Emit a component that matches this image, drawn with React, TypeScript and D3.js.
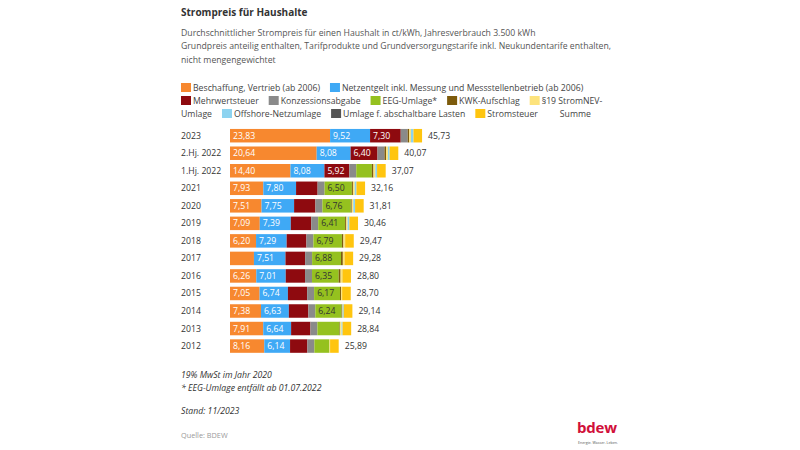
import React from "react";
import * as d3 from "d3";

const categories = ["2023", "2.Hj. 2022", "1.Hj. 2022", "2021", "2020", "2019", "2018", "2017", "2016", "2015", "2014", "2013", "2012"];
const beschaffung = [23.83, 20.64, 14.40, 7.93, 7.51, 7.09, 6.20, 5.70, 6.26, 7.05, 7.38, 7.91, 8.16];
const netzentgelt = [9.52, 8.08, 8.08, 7.80, 7.75, 7.39, 7.29, 7.51, 7.01, 6.74, 6.63, 6.64, 6.14];
const mehrwertsteuer = [7.30, 6.40, 5.92, 5.13, 5.08, 4.86, 4.71, 4.68, 4.60, 4.58, 4.65, 4.60, 4.13];
const konzession = [1.66, 1.66, 1.66, 1.66, 1.66, 1.66, 1.66, 1.66, 1.66, 1.66, 1.66, 1.66, 1.66];
const eeg = [0, 0, 3.72, 6.50, 6.76, 6.41, 6.79, 6.88, 6.35, 6.17, 6.24, 5.28, 3.59];
const kwk = [0.36, 0.38, 0.38, 0.25, 0.23, 0.28, 0.35, 0.44, 0.45, 0.25, 0.18, 0.13, 0.0];
const par19 = [0.42, 0.44, 0.44, 0.43, 0.36, 0.31, 0.37, 0.39, 0.38, 0.24, 0.09, 0.33, 0.15];
const offshore = [0.59, 0.42, 0.42, 0.40, 0.42, 0.42, 0.04, 0.0, 0.04, 0.0, 0.25, 0.25, 0.0];
const abschaltbar = [0, 0, 0, 0.01, 0.01, 0.01, 0.01, 0.01, 0, 0.01, 0.01, 0, 0];
const stromsteuer = [2.05, 2.05, 2.05, 2.05, 2.05, 2.05, 2.05, 2.05, 2.05, 2.05, 2.05, 2.05, 2.05];
const summe = [45.73, 40.07, 37.07, 32.16, 31.81, 30.46, 29.47, 29.28, 28.80, 28.70, 29.14, 28.84, 25.89];

const seriesNames = [
  "Beschaffung, Vertrieb (ab 2006)",
  "Netzentgelt inkl. Messung und Messstellenbetrieb (ab 2006)",
  "Mehrwertsteuer",
  "Konzessionsabgabe",
  "EEG-Umlage*",
  "KWK-Aufschlag",
  "§19 StromNEV-Umlage",
  "Offshore-Netzumlage",
  "Umlage f. abschaltbare Lasten",
  "Stromsteuer",
];
const seriesValues = [beschaffung, netzentgelt, mehrwertsteuer, konzession, eeg, kwk, par19, offshore, abschaltbar, stromsteuer];
const seriesColors = ["#f7882f", "#3fa9f5", "#8e0a0f", "#8a8a8a", "#95c11f", "#7d5b0c", "#fde37c", "#8dd3f0", "#555555", "#ffc50f"];
const labelColors = ["#ffffff", "#ffffff", "#ffffff", "#ffffff", "#333333", "#ffffff", "#333333", "#333333", "#ffffff", "#333333"];

// legend lines (the §19 label wraps at its hyphen)
const legendLines: { text: string; color: string | null }[][] = [
  [
    { text: seriesNames[0], color: seriesColors[0] },
    { text: seriesNames[1], color: seriesColors[1] },
  ],
  [
    { text: seriesNames[2], color: seriesColors[2] },
    { text: seriesNames[3], color: seriesColors[3] },
    { text: seriesNames[4], color: seriesColors[4] },
    { text: seriesNames[5], color: seriesColors[5] },
    { text: "§19 StromNEV-", color: seriesColors[6] },
  ],
  [
    { text: "Umlage", color: "none" },
    { text: seriesNames[7], color: seriesColors[7] },
    { text: seriesNames[8], color: seriesColors[8] },
    { text: seriesNames[9], color: seriesColors[9] },
    { text: "Summe", color: null },
  ],
];

const subtitleLines = [
  "Durchschnittlicher Strompreis für einen Haushalt in ct/kWh, Jahresverbrauch 3.500 kWh",
  "Grundpreis anteilig enthalten, Tarifprodukte und Grundversorgungstarife inkl. Neukundentarife enthalten,",
  "nicht mengengewichtet",
];

const FONT = "'Open Sans', 'Noto Sans', sans-serif";
const FS = 8.7;

const locale = d3.formatLocale({ decimal: ",", thousands: ".", grouping: [3], currency: ["", " €"] });
const fmt = locale.format(".2f");

let ctx: CanvasRenderingContext2D | null = null;
function measure(text: string, size = FS, weight = "normal") {
  if (!ctx) ctx = document.createElement("canvas").getContext("2d");
  if (!ctx) return text.length * size * 0.5;
  ctx.font = `${weight} ${size}px 'Open Sans'`;
  return ctx.measureText(text).width;
}

export default function App() {
  const left = 181;
  const x0 = 230;
  const x = d3.scaleLinear().domain([0, 10]).range([x0, x0 + 42]);
  const step = 17.53;
  const y = d3
    .scaleBand<string>()
    .domain(categories)
    .range([135.7 - step / 2, 135.7 - step / 2 + step * categories.length])
    .paddingInner(0.23)
    .paddingOuter(0.115);
  const bh = y.bandwidth();

  const rows = categories.map((c, i) => {
    let acc = 0;
    const segs = seriesValues.map((vals, s) => {
      const v = vals[i];
      const start = acc;
      acc += v;
      return { s, v, start, end: acc };
    });
    return { c, i, segs };
  });

  // legend layout
  const legend: { x: number; y: number; text: string; color: string | null; tx: number }[] = [];
  const legendBase = [91, 104, 117];
  legendLines.forEach((line, li) => {
    let cx = left;
    line.forEach((item) => {
      if (item.color === "none") {
        legend.push({ x: cx, y: legendBase[li], text: item.text, color: "none", tx: cx });
        cx += measure(item.text) + 10;
      } else {
        legend.push({ x: cx, y: legendBase[li], text: item.text, color: item.color, tx: cx + 12 });
        cx += 12 + measure(item.text) + 10;
      }
    });
  });

  return (
    <svg
      width={800}
      height={450}
      style={{ position: "absolute", left: 0, top: 0, background: "#fff", fontFamily: FONT }}
    >
      <rect width={800} height={450} fill="#fff" />
      <text x={left} y={15.5} fontSize={10} fontWeight={700} fill="#333">
        Strompreis für Haushalte
      </text>
      {subtitleLines.map((t, i) => (
        <text key={i} x={left} y={36 + i * 13.4} fontSize={FS} fill="#555">
          {t}
        </text>
      ))}

      {legend.map((l, i) => (
        <g key={i}>
          {l.color && l.color !== "none" && (
            <rect x={l.x} y={l.y - 8} width={10} height={9} fill={l.color} />
          )}
          <text x={l.tx} y={l.y} fontSize={FS} fill="#444">
            {l.text}
          </text>
        </g>
      ))}

      {rows.map((r) => {
        const yy = y(r.c)!;
        const cy = yy + bh / 2;
        return (
          <g key={r.c}>
            <text x={left} y={cy + 3} fontSize={FS} fill="#333">
              {r.c}
            </text>
            {r.segs.map((sg) =>
              sg.v > 0 ? (
                <rect
                  key={sg.s}
                  x={x(sg.start)}
                  y={yy}
                  width={x(sg.end) - x(sg.start)}
                  height={bh}
                  fill={seriesColors[sg.s]}
                />
              ) : null
            )}
            {r.segs.map((sg) =>
              sg.v >= 5.8 ? (
                <text
                  key={"l" + sg.s}
                  x={x(sg.start) + 3}
                  y={cy + 3}
                  fontSize={FS}
                  fill={labelColors[sg.s]}
                >
                  {fmt(sg.v)}
                </text>
              ) : null
            )}
            <text x={x(summe[r.i]) + 6} y={cy + 3} fontSize={FS} fill="#333">
              {fmt(summe[r.i])}
            </text>
          </g>
        );
      })}

      <text x={left} y={378} fontSize={FS} fontStyle="italic" fill="#333">
        19% MwSt im Jahr 2020
      </text>
      <text x={left} y={391} fontSize={FS} fontStyle="italic" fill="#333">
        * EEG-Umlage entfällt ab 01.07.2022
      </text>
      <text x={left} y={414} fontSize={FS} fontStyle="italic" fill="#333">
        Stand: 11/2023
      </text>
      <text x={left} y={437.5} fontSize={7.3} fill="#999">
        Quelle: BDEW
      </text>

      <text x={577} y={433} fontSize={15} fontWeight={700} fill="#d1103a" letterSpacing={-0.2}>
        bdew
      </text>
      <text x={578} y={443.5} fontSize={3.6} fill="#555">
        Energie. Wasser. Leben.
      </text>
    </svg>
  );
}
